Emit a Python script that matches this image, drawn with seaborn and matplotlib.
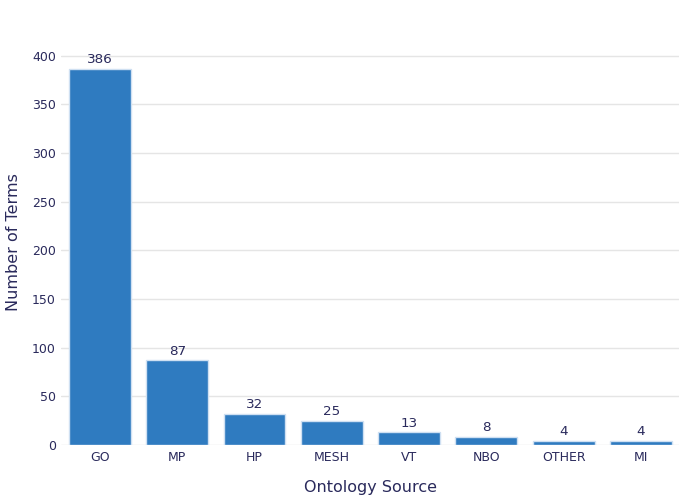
import matplotlib
matplotlib.use("Agg")
import matplotlib.pyplot as plt
import seaborn as sns
import pandas as pd

sources = ["GO", "MP", "HP", "MESH", "VT", "NBO", "OTHER", "MI"]
term_counts = [386, 87, 32, 25, 13, 8, 4, 4]

text_color = "#2a2a5c"
bar_color = "#2f7bc0"

sns.set_theme(style="white")
plt.rcParams["font.family"] = ["DejaVu Sans"]

df = pd.DataFrame({"source": sources, "count": term_counts})

fig = plt.figure(figsize=(7, 5), dpi=100)
ax = fig.add_axes([0.0877, 0.11, 0.883, 0.81])

sns.barplot(
    data=df, x="source", y="count", color=bar_color, saturation=1,
    width=0.8, edgecolor="#cfe0f2", linewidth=1, ax=ax,
)

# value labels above bars
for p in ax.patches:
    ax.annotate(
        "{:d}".format(int(round(p.get_height()))),
        (p.get_x() + p.get_width() / 2.0, p.get_height()),
        ha="center", va="bottom", fontsize=9.7, color=text_color,
        xytext=(0, 2), textcoords="offset points",
    )

ax.set_ylim(0, 416)
ax.set_xlim(-0.5, len(sources) - 0.5)
ax.set_yticks(range(0, 401, 50))
ax.yaxis.grid(True, color="#e5e5e5", linewidth=1)
ax.set_axisbelow(True)
for s in ax.spines.values():
    s.set_visible(False)
ax.tick_params(axis="both", length=0, labelsize=9, colors=text_color, pad=4)
ax.set_xlabel("Ontology Source", fontsize=11.5, color=text_color, labelpad=12)
ax.set_ylabel("Number of Terms", fontsize=11.5, color=text_color, labelpad=8)

fig.savefig("out.png", dpi=100)
